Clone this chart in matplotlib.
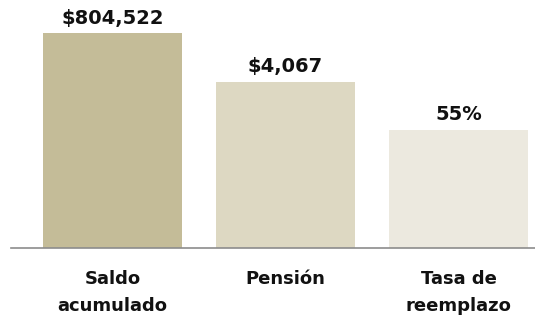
import matplotlib
matplotlib.use("Agg")
import matplotlib.pyplot as plt

categories = ["Saldo\nacumulado", "Pensión", "Tasa de\nreemplazo"]
# bar heights on a common index (Saldo = 100); Tasa is drawn at its own 55%
heights = [100, 77.4, 55]
value_labels = ["$804,522", "$4,067", "55%"]
colors = ["#C4BC98", "#DDD8C2", "#ECE9DF"]

fig = plt.figure(figsize=(5.35, 3.28), dpi=100)
ax = fig.add_axes([11 / 535, 80 / 328, 524 / 535, 248 / 328])

x = range(len(categories))
bars = ax.bar(x, heights, width=0.8, color=colors)
for b, lab in zip(bars, value_labels):
    ax.text(b.get_x() + b.get_width() / 2, b.get_height() + 2.5, lab,
            ha="center", va="bottom", fontsize=14, fontweight="bold", color="#111111")

ax.set_xlim(-0.587, 2.442)
ax.set_ylim(0, 115.3)
ax.set_xticks(list(x))
ax.set_xticklabels(categories, fontsize=13, fontweight="bold", color="#111111",
                   linespacing=1.65)
ax.tick_params(axis="x", length=0, pad=16)
ax.set_yticks([])
for s in ["top", "right", "left"]:
    ax.spines[s].set_visible(False)
ax.spines["bottom"].set_color("#8c8c8c")
ax.spines["bottom"].set_linewidth(1.2)

fig.savefig("out.png", dpi=100)
